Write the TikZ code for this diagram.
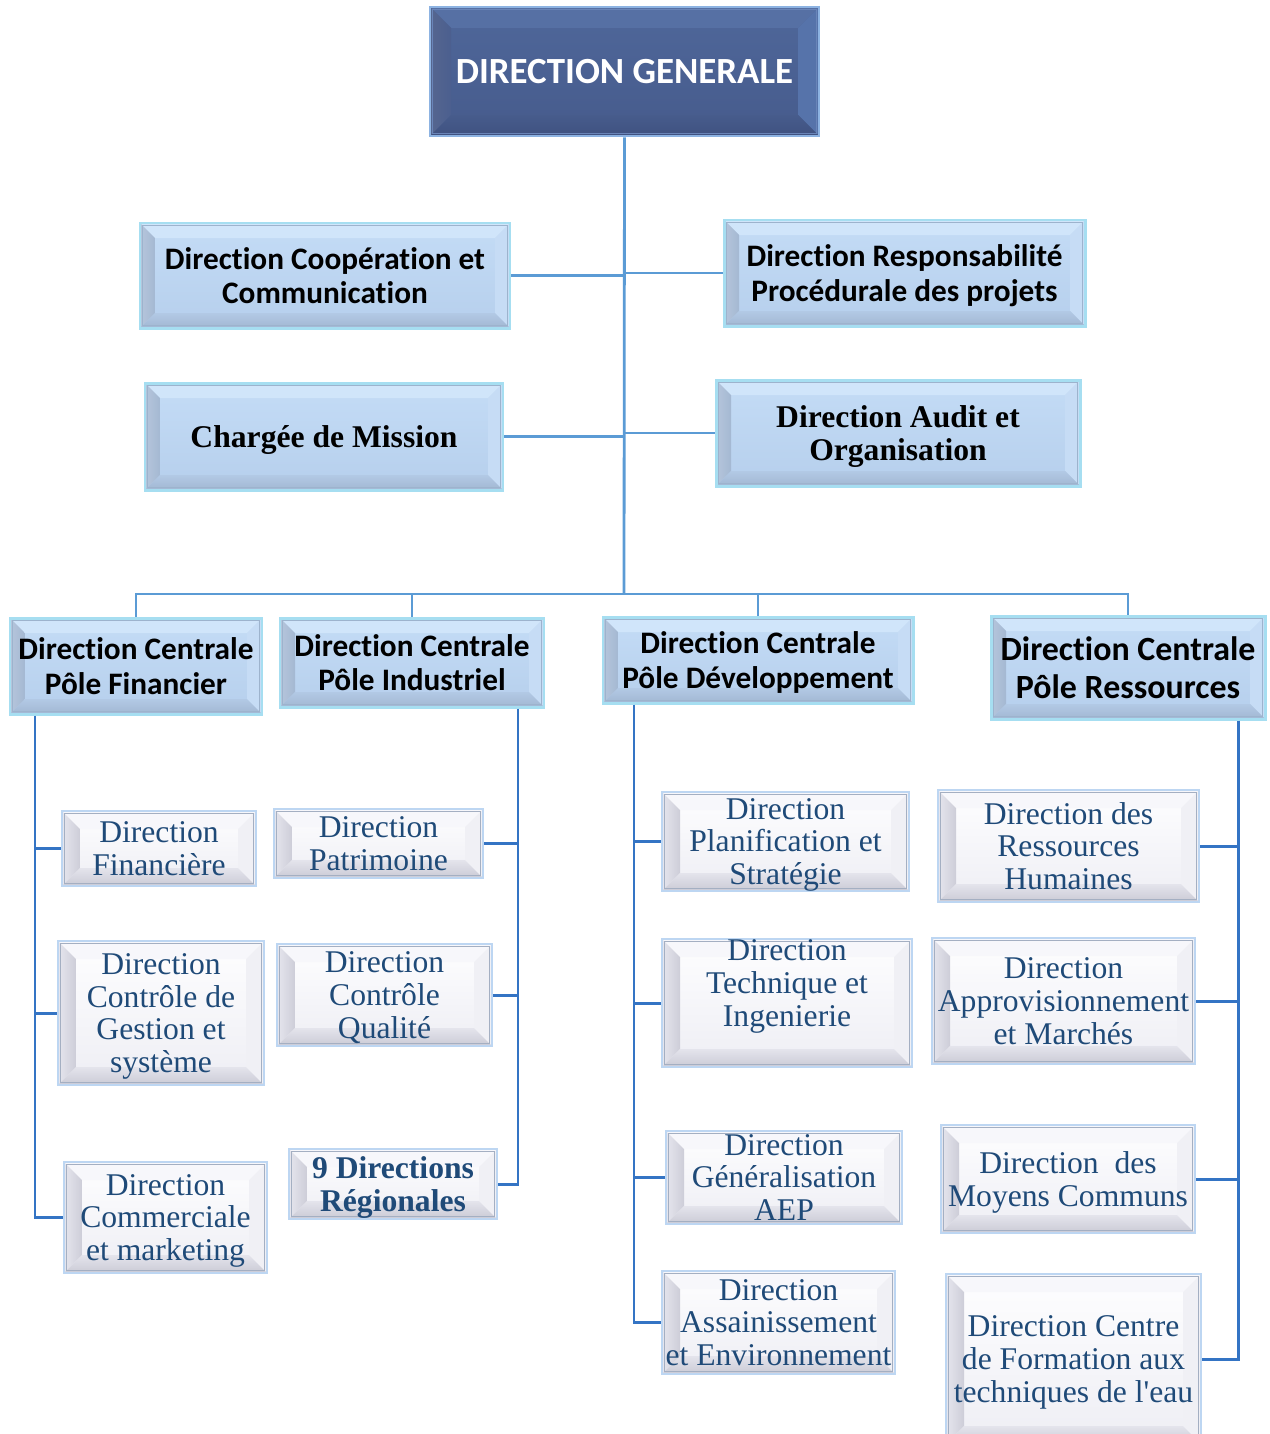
\documentclass[tikz,border=0pt]{standalone}
\usepackage{fontspec}
\setmainfont{Liberation Serif}
\newfontfamily\carlito[Ligatures=NoCommon]{Carlito}
\usetikzlibrary{calc}

% palette
\definecolor{dgfillA}{HTML}{4F679A}
\definecolor{dgfillB}{HTML}{465B8C}
\definecolor{dgtop}{HTML}{5670A4}
\definecolor{dgleftA}{HTML}{56668F}
\definecolor{dgleftB}{HTML}{4B5F8F}
\definecolor{dgbotA}{HTML}{475C8C}
\definecolor{dgbotB}{HTML}{3F5180}
\definecolor{dgright}{HTML}{5673AA}
\definecolor{dgline}{HTML}{8DB3E2}
\definecolor{dgin}{HTML}{6A85B8}

\definecolor{tfillA}{HTML}{C4DCF6}
\definecolor{tfillB}{HTML}{B6CFEC}
\definecolor{ttop}{HTML}{D0E5FA}
\definecolor{tleftA}{HTML}{B6C6DC}
\definecolor{tleftB}{HTML}{A4B8D2}
\definecolor{tbotA}{HTML}{B2C9E5}
\definecolor{tbotB}{HTML}{A2B7D2}
\definecolor{tright}{HTML}{C6DCF5}
\definecolor{tline}{HTML}{A6DEF1}
\definecolor{tin}{HTML}{9DB3CD}

\definecolor{sfillA}{HTML}{FEFEFF}
\definecolor{sfillB}{HTML}{EEEEF4}
\definecolor{stop}{HTML}{F7F7FB}
\definecolor{sleftA}{HTML}{E6E6EE}
\definecolor{sleftB}{HTML}{CDCDD8}
\definecolor{sbotA}{HTML}{E4E4EC}
\definecolor{sbotB}{HTML}{CACAD5}
\definecolor{sright}{HTML}{F0F0F5}
\definecolor{sline}{HTML}{BDD6F2}
\definecolor{sin}{HTML}{A4AFC2}

\definecolor{subblue}{HTML}{1F4A78}
\definecolor{lineA}{HTML}{5B9BD5}
\definecolor{lineB}{HTML}{3474C4}

\tikzset{
  bevel size/.store in=\bvs, bevel size=0.3cm,
  bv top/.store in=\bvTop, bv right/.store in=\bvRight,
  bv left a/.store in=\bvLa, bv left b/.store in=\bvLb,
  bv bot a/.store in=\bvBa, bv bot b/.store in=\bvBb,
  bv in/.store in=\bvIn,
  bevel/.style={path picture={
    \fill[\bvTop] (path picture bounding box.north west) -- (path picture bounding box.north east)
      -- ([shift={(-\bvs,-\bvs)}]path picture bounding box.north east)
      -- ([shift={(\bvs,-\bvs)}]path picture bounding box.north west) -- cycle;
    \fill[\bvRight] (path picture bounding box.south east) -- ([shift={(-\bvs,\bvs)}]path picture bounding box.south east)
      -- ([shift={(-\bvs,-\bvs)}]path picture bounding box.north east) -- (path picture bounding box.north east) -- cycle;
    \shade[left color=\bvLa, right color=\bvLb] (path picture bounding box.north west) -- ([shift={(\bvs,-\bvs)}]path picture bounding box.north west)
      -- ([shift={(\bvs,\bvs)}]path picture bounding box.south west) -- (path picture bounding box.south west) -- cycle;
    \shade[top color=\bvBa, bottom color=\bvBb] (path picture bounding box.south west) -- ([shift={(\bvs,\bvs)}]path picture bounding box.south west)
      -- ([shift={(-\bvs,\bvs)}]path picture bounding box.south east) -- (path picture bounding box.south east) -- cycle;
    \draw[\bvIn, line width=0.7pt] ([shift={(1.3pt,1.3pt)}]path picture bounding box.south west)
      rectangle ([shift={(-1.3pt,-1.3pt)}]path picture bounding box.north east);
  }},
  dgbox/.style={draw=dgline, line width=1.5pt, top color=dgfillA, bottom color=dgfillB, inner sep=0pt,
    bevel size=0.42cm, bv top=dgtop, bv right=dgright, bv left a=dgleftA, bv left b=dgleftB,
    bv bot a=dgbotA, bv bot b=dgbotB, bv in=dgin, bevel},
  topbox/.style={draw=tline, line width=1.7pt, top color=tfillA, bottom color=tfillB, inner sep=0pt,
    bevel size=0.3cm, bv top=ttop, bv right=tright, bv left a=tleftA, bv left b=tleftB,
    bv bot a=tbotA, bv bot b=tbotB, bv in=tin, bevel},
  subbox/.style={draw=sline, line width=1.6pt, top color=sfillA, bottom color=sfillB, inner sep=0pt,
    bevel size=0.36cm, bv top=stop, bv right=sright, bv left a=sleftA, bv left b=sleftB,
    bv bot a=sbotA, bv bot b=sbotB, bv in=sin, bevel},
  dgtext/.style={font=\carlito\bfseries\fontsize{21}{25}\selectfont, text=white, inner sep=0pt},
  stext/.style={font=\carlito\bfseries\fontsize{17.8}{19.8}\selectfont, align=center, inner sep=0pt, text depth=0pt},
  rtext/.style={font=\carlito\bfseries\fontsize{19.3}{22}\selectfont, align=center, inner sep=0pt, text depth=0pt},
  btext/.style={font=\bfseries\fontsize{18}{19.3}\selectfont, align=center, inner sep=0pt, text depth=0pt},
  subtext/.style={font=\fontsize{18}{18.7}\selectfont, text=subblue, align=center, inner sep=0pt, text depth=0pt},
  subbold/.style={font=\bfseries\fontsize{18}{19.3}\selectfont, text=subblue, align=center, inner sep=0pt, text depth=0pt},
  conA/.style={draw=lineA, line width=1.6pt},
  conB/.style={draw=lineB, line width=1.7pt},
}

% box from its corners: name, x1, y1, x2, y2, style
\newcommand\orgbx[6]{\node[#6, minimum width={(#4-#2)*0.02cm}, minimum height={(#5-#3)*0.02cm}]
  (#1) at ({(#2+#4)/2},{(#3+#5)/2}) {};}

\begin{document}
\begin{tikzpicture}[x=0.02cm, y=-0.02cm]
\useasboundingbox (0,0) rectangle (1269,1434);

% top level
\orgbx{dg}{430}{7}{819}{136}{dgbox}
\node[dgtext] (dg-t) at (dg) {DIRECTION GENERALE};

% staff directions
\orgbx{coop}{140}{223}{510}{328}{topbox}
\node[stext] (coop-t) at (coop) {Direction Coopération et\\Communication};
\orgbx{resp}{724}{220}{1085}{326}{topbox}
\node[stext] (resp-t) at (resp) {Direction Responsabilité\\Procédurale des projets};
\orgbx{charg}{145}{383}{503}{490}{topbox}
\node[btext] (charg-t) at (charg) {Chargée de Mission};
\orgbx{audit}{716}{380}{1080}{486}{topbox}
\node[btext] (audit-t) at (audit) {Direction Audit et\\Organisation};

% central directions
\orgbx{pf}{10}{618}{262}{714}{topbox}
\node[stext] (pf-t) at (pf) {Direction Centrale\\Pôle Financier};
\orgbx{pi}{280}{618}{544}{707}{topbox}
\node[stext] (pi-t) at (pi) {Direction Centrale\\Pôle Industriel};
\orgbx{pd}{603}{617}{913}{703}{topbox}
\node[stext] (pd-t) at (pd) {Direction Centrale\\Pôle Développement};
\orgbx{pr}{991}{616}{1265}{719}{topbox}
\node[rtext] (pr-t) at (pr) {Direction Centrale\\Pôle Ressources};

% pôle financier
\orgbx{fin}{62}{811}{256}{886}{subbox}
\node[subtext] (fin-t) at (fin) {Direction\\Financière};
\orgbx{ccg}{58}{941}{264}{1085}{subbox}
\node[subtext] (ccg-t) at (ccg) {Direction\\Contrôle de\\Gestion et\\système};
\orgbx{com}{64}{1162}{267}{1273}{subbox}
\node[subtext] (com-t) at (com) {Direction\\Commerciale\\et marketing};

% pôle industriel
\orgbx{pat}{274}{809}{483}{878}{subbox}
\node[subtext] (pat-t) at (pat) {Direction\\Patrimoine};
\orgbx{cq}{277}{944}{492}{1046}{subbox}
\node[subtext] (cq-t) at (cq) {Direction\\Contrôle\\Qualité};
\orgbx{reg}{289}{1149}{497}{1219}{subbox}
\node[subbold] (reg-t) at (reg) {9 Directions\\Régionales};

% pôle développement
\orgbx{pla}{662}{792}{909}{891}{subbox}
\node[subtext] (pla-t) at (pla) {Direction\\Planification et\\Stratégie};
\orgbx{tec}{662}{939}{912}{1067}{subbox}
\node[subtext] (tec-t) at ([yshift=0.4cm]tec) {Direction\\Technique et\\Ingenierie};
\orgbx{gen}{666}{1131}{902}{1224}{subbox}
\node[subtext] (gen-t) at (gen) {Direction\\Généralisation\\AEP};
\orgbx{ass}{662}{1271}{895}{1374}{subbox}
\node[subtext] (ass-t) at (ass) {Direction\\Assainissement\\et Environnement};

% pôle ressources
\orgbx{rh}{938}{790}{1199}{902}{subbox}
\node[subtext] (rh-t) at (rh) {Direction des\\Ressources\\Humaines};
\orgbx{app}{932}{938}{1195}{1064}{subbox}
\node[subtext] (app-t) at (app) {Direction\\Approvisionnement\\et Marchés};
\orgbx{moy}{941}{1125}{1195}{1233}{subbox}
\node[subtext] (moy-t) at (moy) {Direction\ \ des\\Moyens Communs};
\orgbx{frm}{946}{1274}{1201}{1444}{subbox}
\node[subtext] (frm-t) at (frm) {Direction Centre\\de Formation aux\\techniques de l\textquotesingle eau};

% trunk and staff links
\coordinate (bus) at (624,594);
\draw[conA] (dg.south) -- (bus);
\draw[conA] (coop.east) -- (coop.east -| dg.south);
\draw[conA] (resp.west) -- (resp.west -| dg.south);
\draw[conA] (charg.east) -- (charg.east -| dg.south);
\draw[conA] (audit.west) -- (audit.west -| dg.south);

% bus to the central directions
\draw[conA] (pf.north) |- (bus) -| (pr.north);
\draw[conA] (pi.north) -- (pi.north |- bus);
\draw[conA] (pd.north) -- (pd.north |- bus);

% rails of each pôle
\coordinate (xf) at (35,0);
\coordinate (xi) at (518,0);
\coordinate (xd) at (634,0);
\coordinate (xr) at (1238,0);

\draw[conB] (pf.south -| xf) |- (com.west);
\draw[conB] (fin.west) -- (fin.west -| xf);
\draw[conB] (ccg.west) -- (ccg.west -| xf);

\draw[conB] (pi.south -| xi) |- (reg.east);
\draw[conB] (pat.east) -- (pat.east -| xi);
\draw[conB] (cq.east) -- (cq.east -| xi);

\draw[conB] (pd.south -| xd) |- (ass.west);
\draw[conB] (pla.west) -- (pla.west -| xd);
\draw[conB] (tec.west) -- (tec.west -| xd);
\draw[conB] (gen.west) -- (gen.west -| xd);

\draw[conB] (pr.south -| xr) |- (frm.east);
\draw[conB] (rh.east) -- (rh.east -| xr);
\draw[conB] (app.east) -- (app.east -| xr);
\draw[conB] (moy.east) -- (moy.east -| xr);
\end{tikzpicture}
\end{document}
